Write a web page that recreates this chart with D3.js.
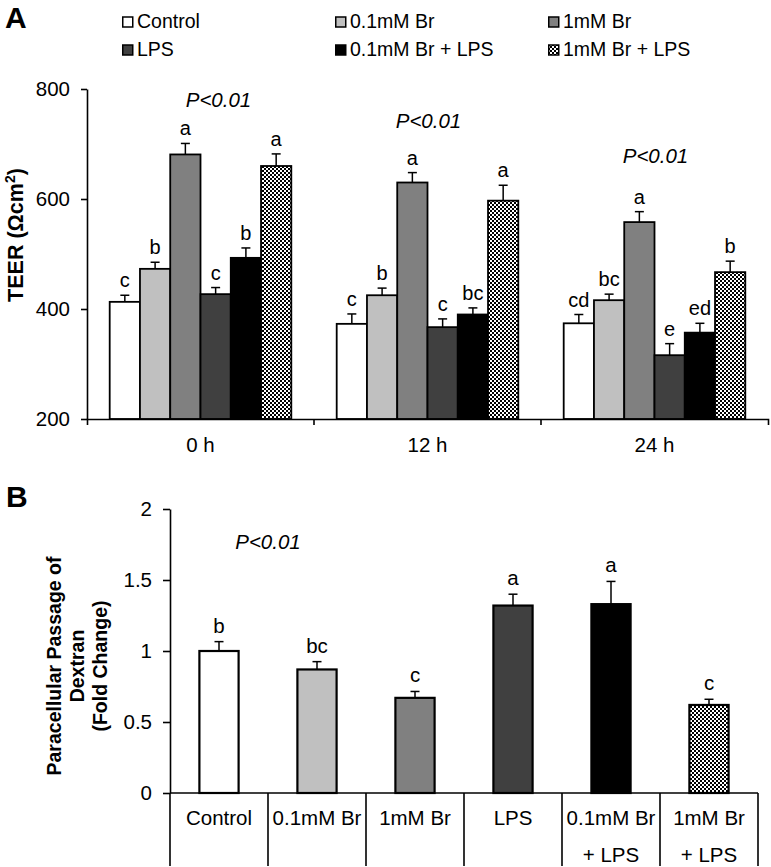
<!DOCTYPE html>
<html>
<head>
<meta charset="utf-8">
<script src="https://cdn.jsdelivr.net/npm/d3@7"></script>
<style>
  body { margin: 0; background: #fff; }
  svg text { font-family: "Liberation Sans", Arial, sans-serif; fill: #000; }
</style>
</head>
<body>
<svg id="chart" width="771" height="867"></svg>
<script>
// ---- data ----
const groups = ["0 h", "12 h", "24 h"];
const series = ["Control", "0.1mM Br", "1mM Br", "LPS", "0.1mM Br + LPS", "1mM Br + LPS"];
const fills = ["#ffffff", "#c0c0c0", "#808080", "#404040", "#000000", "url(#checker)"];

const teerMean = [
  [413, 473, 681, 427, 493, 660],
  [373, 425, 630, 367, 390, 597],
  [374, 416, 558, 316, 357, 467]
];
const teerErr = [
  [12, 12, 20, 12, 18, 22],
  [18, 13, 18, 15, 12, 28],
  [16, 11, 19, 21, 17, 20]
];
const teerLetters = [
  ["c", "b", "a", "c", "b", "a"],
  ["c", "b", "a", "c", "bc", "a"],
  ["cd", "bc", "a", "e", "ed", "b"]
];
const teerTicks = [200, 400, 600, 800];
// P-value notes: group, offset along group, value height
const teerNotes = [
  { g: "0 h", dx: 18, v: 767 },
  { g: "12 h", dx: 1, v: 729 },
  { g: "24 h", dx: 1, v: 665 }
];

const dextranMean = [1.0, 0.87, 0.67, 1.32, 1.33, 0.62];
const dextranErr = [0.066, 0.055, 0.045, 0.08, 0.16, 0.04];
const dextranLetters = ["b", "bc", "c", "a", "a", "c"];
const dextranTicks = [0, 0.5, 1, 1.5, 2];
const dextranNote = { v: 1.718 };

// ---- setup ----
const svg = d3.select("#chart");
svg.append("rect").attr("width", 771).attr("height", 867).attr("fill", "#fff");

const defs = svg.append("defs");
const pat = defs.append("pattern")
  .attr("id", "checker")
  .attr("patternUnits", "userSpaceOnUse")
  .attr("width", 4).attr("height", 4);
pat.append("rect").attr("width", 4).attr("height", 4).attr("fill", "#fff");
pat.append("rect").attr("width", 2).attr("height", 2).attr("fill", "#000");
pat.append("rect").attr("x", 2).attr("y", 2).attr("width", 2).attr("height", 2).attr("fill", "#000");

const color = d3.scaleOrdinal().domain(series).range(fills);

// ================= Panel A =================
const a = { left: 87, right: 768, top: 89, bottom: 419 };

const x0 = d3.scaleBand().domain(groups).range([a.left, a.right]);
const x1 = d3.scaleBand().domain(series).range([0, x0.bandwidth()]).paddingOuter(0.75);
const yA = d3.scaleLinear().domain([200, 800]).range([a.bottom, a.top]);

const teerData = groups.flatMap((g, i) => series.map((s, j) => ({
  g, s, v: teerMean[i][j], e: teerErr[i][j], l: teerLetters[i][j]
})));

svg.append("text").attr("x", 5).attr("y", 28)
  .attr("font-size", 30).attr("font-weight", "bold").text("A");

// legend
const legend = svg.append("g");
const legendX = [122, 335, 548];
series.forEach((s, i) => {
  const col = i % 3, row = Math.floor(i / 3);
  const item = legend.append("g")
    .attr("transform", "translate(" + legendX[col] + "," + (28 + row * 28) + ")");
  item.append("rect")
    .attr("x", 0.75).attr("y", -11).attr("width", 10).attr("height", 10)
    .attr("fill", color(s)).attr("stroke", "#000").attr("stroke-width", 1.5);
  item.append("text").attr("x", 15).attr("y", 0)
    .attr("font-size", 19.5).text(s);
});

const chartA = svg.append("g");

// bars
chartA.selectAll(".barA")
  .data(teerData)
  .join("rect")
  .attr("class", "barA")
  .attr("x", d => x0(d.g) + x1(d.s))
  .attr("y", d => yA(d.v))
  .attr("width", x1.bandwidth())
  .attr("height", d => yA(200) - yA(d.v))
  .attr("fill", d => color(d.s))
  .attr("stroke", "#000")
  .attr("stroke-width", 1.8);

// error bars
const errA = chartA.selectAll(".errA")
  .data(teerData)
  .join("g")
  .attr("class", "errA")
  .attr("transform", d => "translate(" + (x0(d.g) + x1(d.s) + x1.bandwidth() / 2) + ",0)");
errA.append("line")
  .attr("y1", d => yA(d.v)).attr("y2", d => yA(d.v + d.e))
  .attr("stroke", "#000").attr("stroke-width", 1.5);
errA.append("line")
  .attr("x1", -4.5).attr("x2", 4.5)
  .attr("y1", d => yA(d.v + d.e)).attr("y2", d => yA(d.v + d.e))
  .attr("stroke", "#000").attr("stroke-width", 1.5);
errA.append("text")
  .attr("text-anchor", "middle")
  .attr("y", d => yA(d.v + d.e) - 8)
  .attr("font-size", 20)
  .text(d => d.l);

// p-value notes
chartA.selectAll(".noteA")
  .data(teerNotes)
  .join("text")
  .attr("class", "noteA")
  .attr("x", d => x0(d.g) + x0.bandwidth() / 2 + d.dx)
  .attr("y", d => yA(d.v))
  .attr("text-anchor", "middle")
  .attr("font-size", 20.5)
  .attr("font-style", "italic")
  .text("P<0.01");

// axes
const yAxisA = chartA.append("g")
  .attr("transform", "translate(" + a.left + ",0)")
  .call(d3.axisLeft(yA).tickValues(teerTicks).tickSize(6).tickPadding(11).tickSizeOuter(0));
const xAxisA = chartA.append("g")
  .attr("transform", "translate(0," + a.bottom + ")")
  .call(d3.axisBottom(x0).tickSize(0).tickPadding(18).tickSizeOuter(6));
xAxisA.selectAll(".boundary")
  .data(groups.slice(1))
  .join("line")
  .attr("class", "boundary")
  .attr("x1", d => x0(d)).attr("x2", d => x0(d))
  .attr("y1", 0).attr("y2", 6)
  .attr("stroke", "#000").attr("stroke-width", 1.5);

[yAxisA, xAxisA].forEach(ax => {
  ax.selectAll("path, line").attr("stroke", "#000").attr("stroke-width", 1.6);
  ax.selectAll("text").attr("font-size", 20.5).attr("font-family", null).attr("fill", "#000");
});

svg.append("text")
  .attr("transform", "translate(23,235) rotate(-90)")
  .attr("text-anchor", "middle")
  .attr("font-size", 21.5)
  .attr("font-weight", "bold")
  .html('TEER (Ωcm<tspan font-size="14" dy="-8">2</tspan><tspan dy="8">)</tspan>');

// ================= Panel B =================
const b = { left: 170, right: 758, top: 509, bottom: 793, base: 866 };

const xB = d3.scaleBand().domain(series).range([b.left, b.right]).paddingInner(0.6).paddingOuter(0.3);
const yB = d3.scaleLinear().domain([0, 2]).range([b.bottom, b.top]);

const dexData = series.map((s, i) => ({
  s, v: dextranMean[i], e: dextranErr[i], l: dextranLetters[i]
}));

svg.append("text").attr("x", 6).attr("y", 507)
  .attr("font-size", 30).attr("font-weight", "bold").text("B");

const chartB = svg.append("g");

chartB.selectAll(".barB")
  .data(dexData)
  .join("rect")
  .attr("class", "barB")
  .attr("x", d => xB(d.s))
  .attr("y", d => yB(d.v))
  .attr("width", xB.bandwidth())
  .attr("height", d => yB(0) - yB(d.v))
  .attr("fill", d => color(d.s))
  .attr("stroke", "#000")
  .attr("stroke-width", 2.2);

const errB = chartB.selectAll(".errB")
  .data(dexData)
  .join("g")
  .attr("class", "errB")
  .attr("transform", d => "translate(" + (xB(d.s) + xB.bandwidth() / 2) + ",0)");
errB.append("line")
  .attr("y1", d => yB(d.v)).attr("y2", d => yB(d.v + d.e))
  .attr("stroke", "#000").attr("stroke-width", 1.5);
errB.append("line")
  .attr("x1", -4.5).attr("x2", 4.5)
  .attr("y1", d => yB(d.v + d.e)).attr("y2", d => yB(d.v + d.e))
  .attr("stroke", "#000").attr("stroke-width", 1.5);
errB.append("text")
  .attr("text-anchor", "middle")
  .attr("y", d => yB(d.v + d.e) - 9)
  .attr("font-size", 20.5)
  .text(d => d.l);

chartB.append("text")
  .attr("x", (xB(series[0]) + xB(series[1]) + xB.bandwidth()) / 2)
  .attr("y", yB(dextranNote.v))
  .attr("text-anchor", "middle")
  .attr("font-size", 20.5)
  .attr("font-style", "italic")
  .text("P<0.01");

const yAxisB = chartB.append("g")
  .attr("transform", "translate(" + b.left + ",0)")
  .call(d3.axisLeft(yB).tickValues(dextranTicks).tickFormat(d => String(d))
    .tickSize(7).tickPadding(11).tickSizeOuter(0));
yAxisB.selectAll("path, line").attr("stroke", "#000").attr("stroke-width", 1.6);
yAxisB.selectAll("text").attr("font-size", 20.5).attr("font-family", null).attr("fill", "#000");

// category table below axis
chartB.append("line")
  .attr("x1", b.left).attr("x2", b.right)
  .attr("y1", b.bottom).attr("y2", b.bottom)
  .attr("stroke", "#000").attr("stroke-width", 1.6);
chartB.selectAll(".divider")
  .data(d3.range(series.length + 1))
  .join("line")
  .attr("class", "divider")
  .attr("x1", i => b.left + i * xB.step()).attr("x2", i => b.left + i * xB.step())
  .attr("y1", b.bottom).attr("y2", b.base)
  .attr("stroke", "#000").attr("stroke-width", 1.6);
const catLabels = chartB.selectAll(".catB")
  .data(series)
  .join("text")
  .attr("class", "catB")
  .attr("text-anchor", "middle")
  .attr("font-size", 20.5);
catLabels.each(function (s) {
  const parts = s.split(" + ");
  const t = d3.select(this);
  const cx = xB(s) + xB.bandwidth() / 2;
  t.append("tspan").attr("x", cx).attr("y", 825).text(parts[0]);
  if (parts[1]) t.append("tspan").attr("x", cx).attr("y", 862).text("+ " + parts[1]);
});

const yLabB = svg.append("text")
  .attr("transform", "translate(0,666) rotate(-90)")
  .attr("text-anchor", "middle")
  .attr("font-size", 19.5)
  .attr("font-weight", "bold");
["Paracellular Passage of", "Dextran", "(Fold Change)"].forEach((line, i) => {
  yLabB.append("tspan").attr("x", 0).attr("y", 61 + i * 23).text(line);
});
</script>
</body>
</html>
